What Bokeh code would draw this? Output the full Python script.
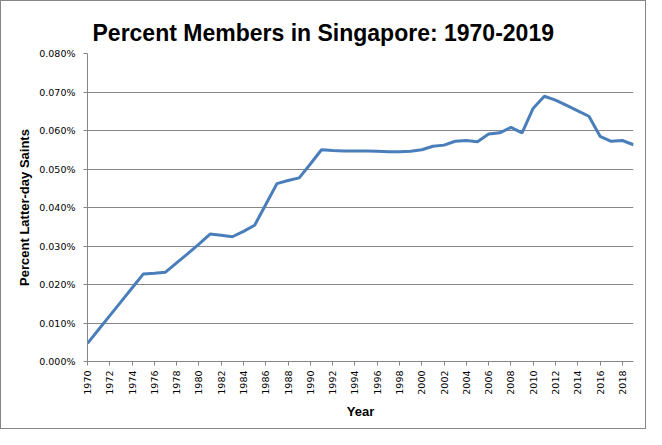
from bokeh.plotting import figure
from bokeh.models import Range1d, FixedTicker, PrintfTickFormatter
from bokeh.embed import file_html
from bokeh.resources import INLINE
import math

years = list(range(1970, 2020))
percent = [
    0.0047, 0.0083, 0.0119, 0.0155, 0.0191, 0.0227, 0.0229, 0.0232, 0.0256, 0.0280,
    0.0305, 0.0331, 0.0328, 0.0324, 0.0338, 0.0354, 0.0408, 0.0462, 0.0470, 0.0477,
    0.0513, 0.0550, 0.0548, 0.0547, 0.0547, 0.0547, 0.0546, 0.0545, 0.0545, 0.0546,
    0.0550, 0.0559, 0.0562, 0.0572, 0.0574, 0.0571, 0.0591, 0.0594, 0.0608, 0.0594,
    0.0658, 0.0689, 0.0679, 0.0665, 0.0651, 0.0637, 0.0585, 0.0572, 0.0574, 0.0563,
]
y_ticks = [0.0, 0.01, 0.02, 0.03, 0.04, 0.05, 0.06, 0.07, 0.08]
x_ticks = list(range(1970, 2019, 2))

title_text = "Percent Members in Singapore: 1970-2019"
x_label = "Year"
y_label = "Percent Latter-day Saints"

grey = "#868686"

p = figure(width=646, height=429, output_backend="svg", toolbar_location=None,
           x_range=Range1d(1970, 2019), y_range=Range1d(0, 0.08),
           min_border_left=86, min_border_right=14, min_border_top=52, min_border_bottom=69)
p.styles = {"border": "1px solid " + grey, "box-sizing": "border-box"}

p.line(years, percent, line_color="#4A7EBB", line_width=3)

p.title.text = title_text
p.title.text_font = "Liberation Sans"
p.title.text_font_size = "23px"
p.title.text_font_style = "bold"
p.title.text_color = "#000000"
p.title.align = "left"
p.title.offset = 5
p.title.standoff = 16

p.outline_line_color = None
p.background_fill_color = "white"
p.border_fill_color = "white"

p.xgrid.grid_line_color = None
p.ygrid.grid_line_color = grey
p.ygrid.grid_line_width = 1
p.ygrid.ticker = FixedTicker(ticks=y_ticks)

ax = p.yaxis[0]
ax.ticker = FixedTicker(ticks=y_ticks)
ax.formatter = PrintfTickFormatter(format="%.3f%%")
ax.axis_label = y_label
ax.axis_label_text_font = "Liberation Sans"
ax.axis_label_text_font_size = "13px"
ax.axis_label_text_font_style = "bold"
ax.axis_label_text_color = "#000000"
ax.axis_label_standoff = 4
ax.major_label_text_font = "DejaVu Sans"
ax.major_label_text_font_size = "9.5px"
ax.major_label_text_color = "#000000"
ax.major_label_standoff = 8
ax.major_tick_out = 4
ax.major_tick_in = 0
ax.minor_tick_out = 0
ax.minor_tick_in = 0
ax.axis_line_color = grey
ax.major_tick_line_color = grey

bx = p.xaxis[0]
bx.ticker = FixedTicker(ticks=x_ticks)
bx.axis_label = x_label
bx.axis_label_text_font = "Liberation Sans"
bx.axis_label_text_font_size = "13px"
bx.axis_label_text_font_style = "bold"
bx.axis_label_text_color = "#000000"
bx.axis_label_standoff = 6
bx.major_label_orientation = math.pi / 2
bx.major_label_text_font = "DejaVu Sans"
bx.major_label_text_font_size = "9.5px"
bx.major_label_text_color = "#000000"
bx.major_label_standoff = 5
bx.major_tick_out = 4
bx.major_tick_in = 0
bx.minor_tick_out = 0
bx.minor_tick_in = 0
bx.axis_line_color = grey
bx.major_tick_line_color = grey

open("out.html", "w").write(file_html(p, INLINE))
